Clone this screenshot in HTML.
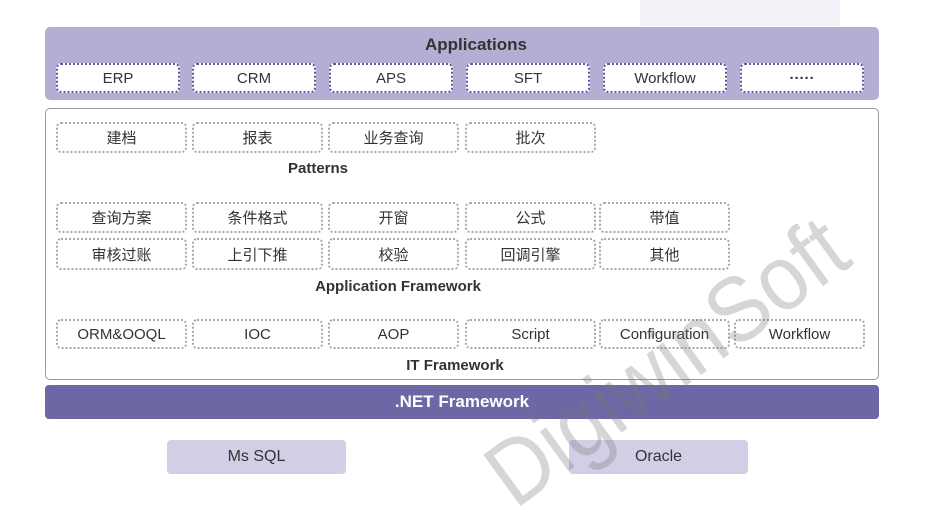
<!DOCTYPE html>
<html><head><meta charset="utf-8"><style>
*{margin:0;padding:0;box-sizing:border-box}
body{width:933px;height:514px;background:#fff;position:relative;overflow:hidden;font-family:"Liberation Sans","Noto Sans CJK SC",sans-serif;color:#333}
.a{position:absolute}
.c{display:flex;align-items:center;justify-content:center}
.app{background:#fff;border:2px dotted #5a58a0;border-radius:5px;font-size:15px}
.g{border:2px dotted #a8a8a8;border-radius:5px;font-size:15px;background:#fff}
.lbl{font-weight:bold;font-size:15px;color:#333;transform:translateX(-50%)}
</style></head><body>
<div class="a" style="left:640px;top:0;width:200px;height:26px;background:#f2f1f7"></div>
<div class="a" style="left:45px;top:27px;width:834px;height:73px;background:#b3aed3;border-radius:5px"></div>
<div class="a lbl" style="left:476px;top:35px;font-size:17px">Applications</div>
<div class="a c app" style="left:56px;top:63px;width:124px;height:30px">ERP</div>
<div class="a c app" style="left:192px;top:63px;width:124px;height:30px">CRM</div>
<div class="a c app" style="left:329px;top:63px;width:124px;height:30px">APS</div>
<div class="a c app" style="left:466px;top:63px;width:124px;height:30px">SFT</div>
<div class="a c app" style="left:603px;top:63px;width:124px;height:30px">Workflow</div>
<div class="a c app" style="left:740px;top:63px;width:124px;height:30px;font-weight:bold">·····</div>
<div class="a" style="left:45px;top:108px;width:834px;height:272px;border:1px solid #999;border-radius:5px;background:#fff"></div>
<div class="a c g" style="left:56px;top:122px;width:131px;height:31px">建档</div>
<div class="a c g" style="left:192px;top:122px;width:131px;height:31px">报表</div>
<div class="a c g" style="left:328px;top:122px;width:131px;height:31px">业务查询</div>
<div class="a c g" style="left:465px;top:122px;width:131px;height:31px">批次</div>
<div class="a lbl" style="left:318px;top:160px">Patterns</div>
<div class="a c g" style="left:56px;top:202px;width:131px;height:31px">查询方案</div>
<div class="a c g" style="left:192px;top:202px;width:131px;height:31px">条件格式</div>
<div class="a c g" style="left:328px;top:202px;width:131px;height:31px">开窗</div>
<div class="a c g" style="left:465px;top:202px;width:131px;height:31px">公式</div>
<div class="a c g" style="left:599px;top:202px;width:131px;height:31px">带值</div>
<div class="a c g" style="left:56px;top:238px;width:131px;height:32px">审核过账</div>
<div class="a c g" style="left:192px;top:238px;width:131px;height:32px">上引下推</div>
<div class="a c g" style="left:328px;top:238px;width:131px;height:32px">校验</div>
<div class="a c g" style="left:465px;top:238px;width:131px;height:32px">回调引擎</div>
<div class="a c g" style="left:599px;top:238px;width:131px;height:32px">其他</div>
<div class="a lbl" style="left:398px;top:278px">Application Framework</div>
<div class="a c g" style="left:56px;top:319px;width:131px;height:30px">ORM&amp;OOQL</div>
<div class="a c g" style="left:192px;top:319px;width:131px;height:30px">IOC</div>
<div class="a c g" style="left:328px;top:319px;width:131px;height:30px">AOP</div>
<div class="a c g" style="left:465px;top:319px;width:131px;height:30px">Script</div>
<div class="a c g" style="left:599px;top:319px;width:131px;height:30px">Configuration</div>
<div class="a c g" style="left:734px;top:319px;width:131px;height:30px">Workflow</div>
<div class="a lbl" style="left:455px;top:357px">IT Framework</div>
<div class="a c" style="left:45px;top:385px;width:834px;height:34px;background:#6e67a6;border-radius:4px;color:#fff;font-weight:bold;font-size:17px">.NET Framework</div>
<div class="a c" style="left:167px;top:440px;width:179px;height:34px;background:#d1cfe5;border-radius:4px;font-size:16px">Ms SQL</div>
<div class="a c" style="left:569px;top:440px;width:179px;height:34px;background:#d1cfe5;border-radius:4px;font-size:16px">Oracle</div>
<svg class="a" style="left:0;top:0" width="933" height="514">
<text x="0" y="0" transform="translate(515,510) rotate(-36)" font-family="Liberation Sans, sans-serif" font-size="92" fill="rgba(120,120,120,0.3)" textLength="420" lengthAdjust="spacingAndGlyphs">DigiwinSoft</text>
</svg>
</body></html>
